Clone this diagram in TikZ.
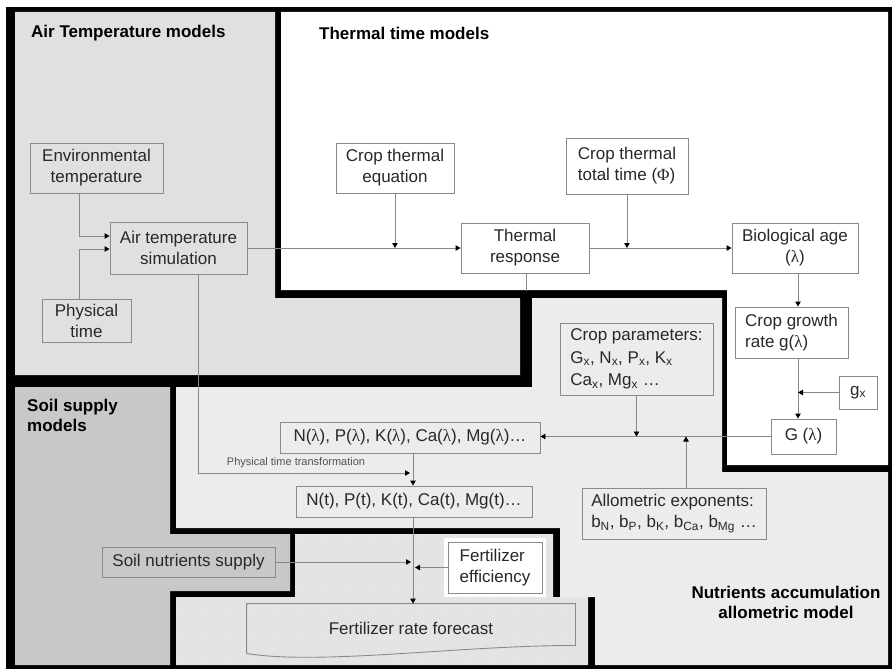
\documentclass[tikz,border=0pt]{standalone}
\usepackage{fontspec}
\setmainfont{Liberation Sans}
\newfontfamily\grk{Liberation Serif}
\usetikzlibrary{arrows.meta,patterns,calc}
\definecolor{airbg}{RGB}{224,224,224}
\definecolor{nutbg}{RGB}{236,236,236}
\definecolor{soilbg}{RGB}{200,200,200}
\definecolor{fertbg}{RGB}{227,227,227}
\definecolor{fertdot}{RGB}{240,240,240}
\definecolor{boxgray}{RGB}{138,138,138}
\definecolor{linegray}{RGB}{135,135,135}
\definecolor{txt}{RGB}{40,40,40}
\newcommand{\lam}{{\grk λ}}
\tikzset{
  box/.style={draw=boxgray, line width=0.9pt, text=txt, inner sep=2pt,
    font=\fontsize{17}{21}\selectfont, align=center},
  arr/.style={draw=linegray, line width=0.9pt,
    -{Triangle[length=5pt,width=5.5pt,color=black]}},
  ln/.style={draw=linegray, line width=0.9pt},
  ttl/.style={font=\bfseries\fontsize{17}{20}\selectfont, text=black, align=left, inner sep=0pt},
}
\begin{document}
\begin{tikzpicture}[x=1pt,y=-1pt]
\useasboundingbox (0,0) rectangle (892,669);
\fill[white] (0,0) rectangle (892,669);
\fill[black] (6,7) rectangle (892,669);
% regions
\fill[airbg] (15,12) -- (275,12) -- (275,298) -- (520,298) -- (520,375) -- (15,375) -- cycle;
\fill[white] (281,12) -- (888,12) -- (888,465) -- (727,465) -- (727,290) -- (281,290) -- cycle;
\fill[nutbg] (176,387) -- (532,387) -- (532,298) -- (722,298) -- (722,472) -- (888,472) -- (888,665) -- (595,665) -- (595,597) -- (560,597) -- (560,528) -- (176,528) -- cycle;
\fill[soilbg] (15,387) -- (170,387) -- (170,534) -- (290,534) -- (290,591) -- (170,591) -- (170,665) -- (15,665) -- cycle;
\fill[fertbg] (176,597) -- (295,597) -- (295,534) -- (553,534) -- (553,597) -- (588,597) -- (588,665) -- (176,665) -- cycle;
\fill[pattern=dots, pattern color=fertdot] (176,597) -- (295,597) -- (295,534) -- (553,534) -- (553,597) -- (588,597) -- (588,665) -- (176,665) -- cycle;
\fill[white] (444,538) rectangle (546,597);

% titles
\node[ttl, anchor=west] (tair) at (31,33) {Air Temperature models};
\node[ttl, anchor=west] (tthm) at (319,33) {Thermal time models};
\node[ttl, anchor=north west] (tsoil) at (27,399) {Soil supply\\models};
\node[ttl, align=center] (tnut) at (786,602) {Nutrients accumulation\\allometric model};

% boxes
\node[box, fill=airbg, minimum width=133, minimum height=50] (env) at (96.5,168) {Environmental\\temperature};
\node[box, fill=airbg, minimum width=137, minimum height=52] (airsim) at (178.5,248) {Air temperature\\simulation};
\node[box, fill=airbg, minimum width=89, minimum height=43] (phys) at (86.5,320.5) {Physical\\time};
\node[box, fill=white, minimum width=118, minimum height=50] (cteq) at (395,168) {Crop thermal\\equation};
\node[box, fill=white, minimum width=122, minimum height=56, align=left] (cttot) at (627,166) {Crop thermal\\total time ({\grk Φ})};
\node[box, fill=white, minimum width=128, minimum height=50] (tresp) at (525,248) {Thermal\\response};
\node[box, fill=white, minimum width=126, minimum height=50] (bioage) at (795,248) {Biological age\\(\lam)};
\node[box, fill=white, minimum width=113, minimum height=51, align=left] (cgr) at (791.5,332.5) {Crop growth\\rate g(\lam)};
\node[box, fill=white, minimum width=38, minimum height=33] (gx) at (858,392.5) {g\textsubscript{x}};
\node[box, fill=white, minimum width=65, minimum height=35] (Glam) at (803.5,436.5) {G (\lam)};
\node[box, fill=nutbg, minimum width=153, minimum height=72, align=left, font=\fontsize{17}{22.5}\selectfont] (cpar) at (636.5,359) {Crop parameters:\\G\textsubscript{x}, N\textsubscript{x}, P\textsubscript{x}, K\textsubscript{x}\\Ca\textsubscript{x}, Mg\textsubscript{x} …};
\node[box, fill=nutbg, minimum width=260, minimum height=31] (Nlam) at (410,437.5) {N(\lam), P(\lam), K(\lam), Ca(\lam), Mg(\lam)…};
\node[box, fill=nutbg, minimum width=236, minimum height=31] (Nt) at (414,501.5) {N(t), P(t), K(t), Ca(t), Mg(t)…};
\node[box, fill=nutbg, minimum width=184, minimum height=51, align=left] (allo) at (674,513.5) {Allometric exponents:\\b\textsubscript{N}, b\textsubscript{P}, b\textsubscript{K}, b\textsubscript{Ca}, b\textsubscript{Mg} …};
\node[box, fill=soilbg, minimum width=173, minimum height=30] (soil) at (188.5,562) {Soil nutrients supply};
\node[box, fill=white, minimum width=94, minimum height=51, align=left] (feff) at (495,567.5) {Fertilizer\\efficiency};
\node[box, draw=none, minimum width=328, minimum height=49] (fc) at (411,628.5) {Fertilizer rate forecast};
\draw[boxgray, line width=0.9pt] (fc.south west) -- (fc.north west) -- (fc.north east) -- ($(fc.south east)+(0,-8)$)
  .. controls ($(fc.south west)+(213,-8)$) and ($(fc.south west)+(73,12)$) .. (fc.south west);

% helper coordinates
\coordinate (jx) at (79,0);
\coordinate (j1) at (79,236);
\coordinate (j2) at (79,249);
\coordinate (vx) at (798,0);
\coordinate (ax) at (686,0);
\coordinate (px) at (198,473);
\coordinate (vx2) at (413,0);
\coordinate (tband) at (526,291);

% connectors
\draw[arr] (env.south -| jx) |- (j1 -| airsim.west);
\draw[arr] (phys.north -| jx) |- (j2 -| airsim.west);
\draw[arr] (airsim.east) -- (tresp.west);
\draw[arr] (cteq.south) -- (cteq.south |- tresp.west);
\draw[arr] (tresp.east) -- (bioage.west);
\draw[arr] (cttot.south) -- (cttot.south |- bioage.west);
\draw[arr] (bioage.south -| vx) -- (cgr.north -| vx);
\draw[arr] (cgr.south -| vx) -- (Glam.north -| vx);
\draw[arr] (gx.west) -- (gx.west -| vx);
\draw[arr] (Glam.west) -- (Glam.west -| Nlam.east);
\draw[arr] (cpar.south) -- (cpar.south |- Glam.west);
\draw[arr] (allo.north -| ax) -- (ax |- Glam.west);
\draw[ln] (tresp.south -| tband) -- (tband);
\draw[arr] (airsim.south -| px) |- ($(px -| vx2)+(-3,0)$);
\node[text=txt!80, font=\fontsize{11}{13}\selectfont, inner sep=0pt] (ptt) at (296,463) {Physical time transformation};
\draw[arr] (Nlam.south -| vx2) -- (Nt.north -| vx2);
\draw[arr] (Nt.south -| vx2) -- (fc.north -| vx2);
\draw[arr] (soil.east) -- ($(soil.east -| vx2)+(-2,0)$);
\draw[arr] (feff.west) -- ($(feff.west -| vx2)+(2,0)$);
\end{tikzpicture}
\end{document}
